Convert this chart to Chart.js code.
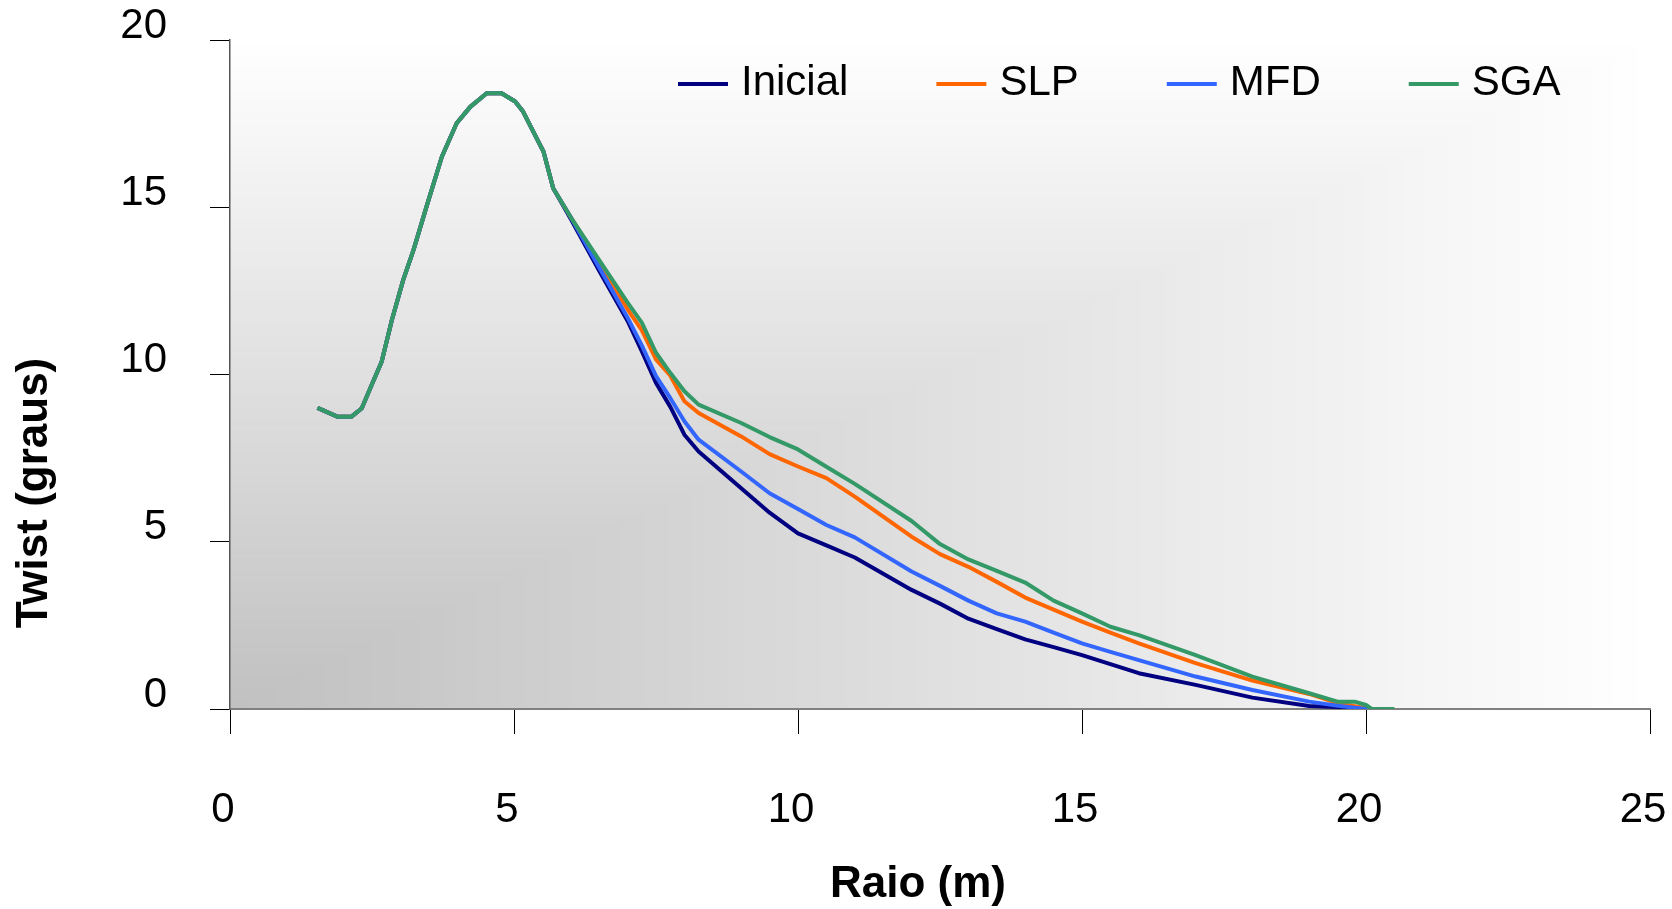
<!DOCTYPE html>
<html>
<head>
<meta charset="utf-8">
<title>Twist x Raio</title>
<script src="https://cdn.jsdelivr.net/npm/chart.js@4.4.0/dist/chart.umd.min.js"></script>
<style>
  html, body { margin: 0; padding: 0; background: #fff; }
  #wrap { width: 1672px; height: 909px; }
</style>
</head>
<body>
<div id="wrap"><canvas id="graficoTwist" width="1672" height="909"></canvas></div>
<script>
// Raio (m) - pontos comuns a todas as séries
const raio = [1.54, 1.89, 2.14, 2.32, 2.52, 2.67, 2.85, 3.05, 3.23, 3.46,
  3.73, 3.99, 4.23, 4.52, 4.78, 5.02, 5.16, 5.31, 5.52, 5.69,
  6.0, 6.5, 7.0, 7.25, 7.5, 7.75, 8.0, 8.25, 9.0, 9.5,
  10.0, 10.5, 11.0, 12.0, 12.5, 13.0, 13.5, 14.0, 14.5, 15.0,
  15.5, 16.0, 17.0, 18.0, 19.0, 19.5, 19.8, 20.0, 20.1, 20.25, 20.5];

// Twist (graus) para cada série
const inicial = [9.0, 8.74, 8.74, 8.99, 9.79, 10.38, 11.63, 12.83, 13.72, 15.02,
  16.51, 17.51, 18.0, 18.41, 18.41, 18.16, 17.86, 17.36, 16.66, 15.57,
  14.65, 13.1, 11.6, 10.7, 9.75, 9.04, 8.2, 7.7, 6.6, 5.87,
  5.25, 4.89, 4.53, 3.56, 3.15, 2.7, 2.39, 2.08, 1.85, 1.61,
  1.34, 1.07, 0.72, 0.34, 0.09, 0.06, 0.02, 0, null, null, null];
const slp = [9.0, 8.74, 8.74, 8.99, 9.79, 10.38, 11.63, 12.83, 13.72, 15.02,
  16.51, 17.51, 18.0, 18.41, 18.41, 18.16, 17.86, 17.36, 16.66, 15.57,
  14.7, 13.35, 11.95, 11.33, 10.45, 9.97, 9.2, 8.85, 8.15, 7.62,
  7.25, 6.9, 6.35, 5.15, 4.63, 4.25, 3.8, 3.33, 2.97, 2.61,
  2.28, 1.96, 1.37, 0.85, 0.45, 0.18, 0.08, 0.02, 0, null, null];
const mfd = [9.0, 8.74, 8.74, 8.99, 9.79, 10.38, 11.63, 12.83, 13.72, 15.02,
  16.51, 17.51, 18.0, 18.41, 18.41, 18.16, 17.86, 17.36, 16.66, 15.57,
  14.7, 13.2, 11.7, 10.87, 9.95, 9.3, 8.6, 8.05, 7.1, 6.45,
  5.98, 5.5, 5.13, 4.11, 3.68, 3.24, 2.86, 2.61, 2.28, 1.96,
  1.71, 1.46, 0.97, 0.57, 0.22, 0.1, 0.04, 0, 0, 0, null];
const sga = [9.0, 8.74, 8.74, 8.99, 9.79, 10.38, 11.63, 12.83, 13.72, 15.02,
  16.51, 17.51, 18.0, 18.41, 18.41, 18.16, 17.86, 17.36, 16.66, 15.57,
  14.7, 13.42, 12.15, 11.55, 10.65, 10.05, 9.5, 9.1, 8.55, 8.13,
  7.76, 7.24, 6.73, 5.62, 4.93, 4.47, 4.13, 3.78, 3.24, 2.86,
  2.46, 2.21, 1.61, 0.97, 0.47, 0.22, 0.22, 0.12, 0, 0, 0];

const nomesSeries = ["Inicial", "SLP", "MFD", "SGA"];
const coresSeries = ["#000080", "#FF6600", "#3366FF", "#339966"];
const valoresSeries = [inicial, slp, mfd, sga];

const tituloX = "Raio (m)";
const tituloY = "Twist (graus)";

const fonte = '"Liberation Sans", Arial, Helvetica, sans-serif';

// Fundo da área do gráfico: degradê a partir do canto inferior esquerdo
const fundoGradiente = {
    id: "fundoGradiente",
    beforeDraw(chart) {
        const { ctx, chartArea: { left, top, right, bottom } } = chart;
        const w = right - left;
        const h = bottom - top;
        const passos = 120;
        ctx.save();
        for (let i = passos; i >= 1; i--) {
            const t = i / passos;
            const c = Math.round(192 + (255 - 192) * t);
            ctx.fillStyle = `rgb(${c},${c},${c})`;
            ctx.fillRect(left, bottom - t * h, t * w, t * h);
        }
        ctx.restore();
    }
};

// Legenda desenhada dentro da área do gráfico
const legendaInterna = {
    id: "legendaInterna",
    afterDraw(chart) {
        const ctx = chart.ctx;
        ctx.save();
        ctx.font = `42px ${fonte}`;
        ctx.textBaseline = "middle";
        ctx.textAlign = "left";
        let x = 678;
        chart.data.datasets.forEach(ds => {
            ctx.strokeStyle = ds.borderColor;
            ctx.lineWidth = 4;
            ctx.beginPath();
            ctx.moveTo(x, 84);
            ctx.lineTo(x + 50, 84);
            ctx.stroke();
            ctx.fillStyle = "#000";
            ctx.fillText(ds.label, x + 63, 83);
            x += 63 + ctx.measureText(ds.label).width + 88;
        });
        ctx.restore();
    }
};

// Títulos dos eixos
const titulosEixos = {
    id: "titulosEixos",
    afterDraw(chart) {
        const ctx = chart.ctx;
        ctx.save();
        ctx.font = `bold 44px ${fonte}`;
        ctx.fillStyle = "#000";
        ctx.textAlign = "center";
        ctx.textBaseline = "middle";
        ctx.fillText(tituloX, 918, 885);
        ctx.translate(35, 493);
        ctx.rotate(-Math.PI / 2);
        ctx.fillText(tituloY, 0, 0);
        ctx.restore();
    }
};

const ctx = document.getElementById("graficoTwist").getContext("2d");
new Chart(ctx, {
    type: "line",
    data: {
        datasets: nomesSeries.map((nome, i) => ({
            label: nome,
            data: raio.map((r, j) => ({ x: r, y: valoresSeries[i][j] })),
            borderColor: coresSeries[i],
            backgroundColor: coresSeries[i],
            borderWidth: 4,
            borderJoinStyle: "round",
            pointRadius: 0,
            tension: 0,
            fill: false,
            order: 4 - i
        }))
    },
    options: {
        responsive: false,
        animation: false,
        devicePixelRatio: 1,
        layout: { padding: { top: 40, right: 22, left: 0, bottom: 0 } },
        plugins: {
            legend: { display: false },
            tooltip: { enabled: false }
        },
        scales: {
            x: {
                type: "linear",
                min: 0,
                max: 25,
                grid: { drawOnChartArea: false, tickLength: 25, tickColor: "#000", tickWidth: 1 },
                border: { color: "#808080", width: 2 },
                ticks: {
                    stepSize: 5,
                    color: "#000",
                    font: { family: fonte, size: 42 },
                    padding: 51,
                    labelOffset: -7,
                    maxRotation: 0
                },
                afterFit(scale) {
                    scale.height = 200;
                    scale.paddingLeft = 0;
                    scale.paddingRight = 0;
                }
            },
            y: {
                min: 0,
                max: 20,
                grid: { drawOnChartArea: false, tickLength: 20, tickColor: "#000", tickWidth: 1 },
                border: { color: "#555", width: 1.5 },
                ticks: {
                    stepSize: 5,
                    color: "#000",
                    font: { family: fonte, size: 42 },
                    padding: 43,
                    labelOffset: -14
                },
                afterFit(scale) {
                    scale.width = 230;
                    scale.paddingTop = 0;
                    scale.paddingBottom = 0;
                }
            }
        }
    },
    plugins: [fundoGradiente, legendaInterna, titulosEixos]
});
</script>
</body>
</html>
